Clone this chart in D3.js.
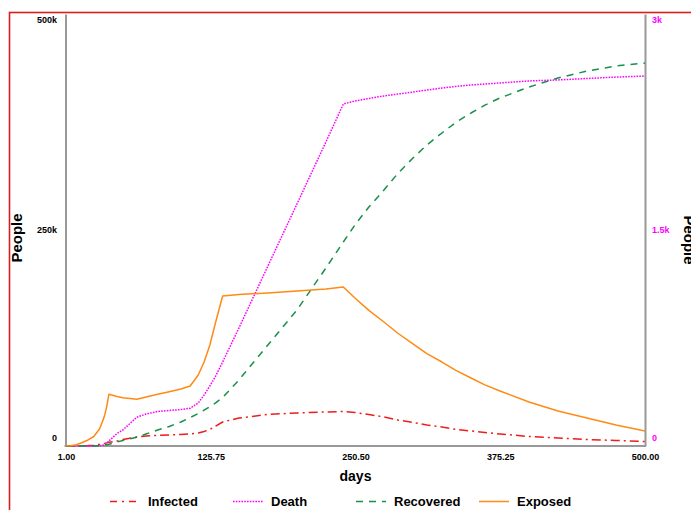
<!DOCTYPE html>
<html>
<head>
<meta charset="utf-8">
<script src="https://cdn.jsdelivr.net/npm/d3@7/dist/d3.min.js"></script>
<style>
  html, body { margin: 0; padding: 0; background: #fff; }
  svg { display: block; font-family: "Liberation Sans", Arial, sans-serif; }
</style>
</head>
<body>
<svg id="chart" width="691" height="510"></svg>
<script>
// Simulation output, sampled by day
const days = [1, 5, 10, 15, 20, 25, 30, 32, 34, 36, 38, 45, 50, 62, 70, 80, 90, 100, 108, 115, 120, 125, 130, 136, 150, 175, 200, 225, 240, 250, 262, 275, 287, 300, 312, 325, 337, 350, 362, 375, 400, 425, 450, 475, 500];

const infected = [0, 0, 0, 200, 500, 1000, 2000, 2500, 3000, 3600, 4300, 5800, 7500, 10600, 11600, 12200, 12700, 13300, 13900, 15000, 16800, 19100, 23100, 27800, 32400, 36500, 38200, 39400, 39900, 38800, 36500, 33600, 30100, 27200, 24300, 22000, 19300, 17400, 15600, 13900, 11000, 9300, 7500, 6400, 5200];

const death = [0, 0, 0, 0, 0, 1, 3, 5, 8, 18, 35, 87, 111, 200, 222, 240, 247, 253, 262, 299, 354, 417, 486, 583, 819, 1250, 1680, 2111, 2375, 2396, 2413, 2431, 2444, 2458, 2472, 2486, 2497, 2507, 2514, 2521, 2535, 2542, 2552, 2562, 2569];

const recovered = [0, 0, 0, 0, 0, 0, 300, 600, 1000, 1500, 2000, 4600, 6400, 10200, 13900, 18500, 22600, 27800, 33000, 37500, 41500, 45500, 50000, 56000, 76400, 116900, 157400, 206000, 236100, 255800, 276600, 296300, 315500, 333300, 348400, 362300, 374500, 385400, 394500, 402800, 415500, 425900, 434000, 439800, 443300];

const exposed = [0, 300, 1500, 4000, 7000, 11000, 20000, 27000, 34000, 45000, 60000, 57300, 55800, 54200, 56700, 59800, 62800, 66000, 69400, 82200, 97200, 116900, 143500, 173600, 175300, 177100, 179400, 181700, 184000, 171300, 157000, 143500, 130500, 118100, 107000, 97200, 87500, 78700, 70800, 63700, 50900, 40500, 32400, 24300, 17400];

const xTicks = [1, 125.75, 250.5, 375.25, 500];
const leftTicks = [0, 250000, 500000];
const leftTickLabels = ["0", "250k", "500k"];
const rightTicks = [0, 1500, 3000];
const rightTickLabels = ["0", "1.5k", "3k"];

const seriesNames = ["Infected", "Death", "Recovered", "Exposed"];

const svg = d3.select("#chart");
const plotLeft = 65.5, plotRight = 645, plotTop = 14, plotBottom = 446;

const x = d3.scaleLinear().domain([1, 500]).range([66, plotRight]);
const yL = d3.scaleLinear().domain([0, 500000]).range([plotBottom, plotTop]);
const yR = d3.scaleLinear().domain([0, 3000]).range([plotBottom, plotTop]);

// frame
svg.append("rect")
  .attr("x", 9.5).attr("y", 12.5)
  .attr("width", 800).attr("height", 600)
  .attr("fill", "none")
  .attr("stroke", "#d81e1e")
  .attr("stroke-width", 1.6);

const axisColor = "#999";
const clampY = v => Math.max(plotTop + 6, Math.min(plotBottom - 8, v));

function styleAxis(g) {
  g.select(".domain").attr("stroke", axisColor).attr("stroke-width", 2);
  g.selectAll(".tick line").remove();
  g.selectAll(".tick text")
    .attr("font-size", 9)
    .attr("font-weight", "bold")
    .attr("font-family", "'Liberation Sans', Arial, sans-serif")
    .attr("dy", null)
    .attr("dominant-baseline", "middle");
}

// left axis
const gL = svg.append("g").attr("transform", `translate(${plotLeft},0)`)
  .call(d3.axisLeft(yL).tickValues(leftTicks).tickSize(0).tickSizeOuter(0).tickPadding(8.5)
    .tickFormat((d, i) => leftTickLabels[i]));
styleAxis(gL);
gL.selectAll(".tick text").attr("fill", "#000").attr("y", d => clampY(yL(d)) - yL(d));

// right axis
const gR = svg.append("g").attr("transform", `translate(${plotRight},0)`)
  .call(d3.axisRight(yR).tickValues(rightTicks).tickSize(0).tickSizeOuter(0).tickPadding(7)
    .tickFormat((d, i) => rightTickLabels[i]));
styleAxis(gR);
gR.selectAll(".tick text").attr("fill", "#ff00ff").attr("y", d => clampY(yR(d)) - yR(d));

// bottom axis
const gB = svg.append("g").attr("transform", `translate(0,${plotBottom})`)
  .call(d3.axisBottom(x).tickValues(xTicks).tickSize(0).tickSizeOuter(0)
    .tickFormat(d3.format(".2f")));
styleAxis(gB);
gB.select(".domain").attr("d", `M${plotLeft - 1},0H${plotRight + 1}`);
gB.selectAll(".tick text").attr("fill", "#000").attr("y", 12);

// axis titles
svg.append("text")
  .attr("x", (66 + plotRight) / 2).attr("y", 481)
  .attr("text-anchor", "middle")
  .attr("font-size", 14).attr("font-weight", "bold")
  .text("days");

svg.append("text")
  .attr("transform", "translate(22,238) rotate(-90)")
  .attr("text-anchor", "middle")
  .attr("font-size", 15).attr("font-weight", "bold")
  .text("People");

svg.append("text")
  .attr("transform", "translate(684,240) rotate(90)")
  .attr("text-anchor", "middle")
  .attr("font-size", 15).attr("font-weight", "bold")
  .text("People");

// series
const series = [
  { name: seriesNames[0], values: infected, y: yL, color: "#ee1c1c", dash: "9,4,2,4" },
  { name: seriesNames[1], values: death, y: yR, color: "#ff00ff", dash: "1.6,1.2" },
  { name: seriesNames[2], values: recovered, y: yL, color: "#17904a", dash: "7,6" },
  { name: seriesNames[3], values: exposed, y: yL, color: "#ff8a14", dash: null }
];

const plot = svg.append("g");
series.forEach(s => {
  const line = d3.line()
    .x((d, i) => x(days[i]))
    .y(d => s.y(d));
  plot.append("path")
    .datum(s.values)
    .attr("d", line)
    .attr("fill", "none")
    .attr("stroke", s.color)
    .attr("stroke-width", 1.5)
    .attr("stroke-dasharray", s.dash)
    .attr("stroke-linejoin", "round");
});

// legend
const legend = svg.append("g");
series.forEach((s, i) => {
  const x0 = 110 + 123 * i;
  const g = legend.append("g").attr("transform", `translate(${x0},501.5)`);
  g.append("line")
    .attr("x1", 0).attr("x2", 30).attr("y1", 0).attr("y2", 0)
    .attr("stroke", s.color)
    .attr("stroke-width", 1.5)
    .attr("stroke-dasharray", i === 0 ? "7,5,2,5" : s.dash);
  g.append("text")
    .attr("x", 38).attr("y", 1.5)
    .attr("dominant-baseline", "middle")
    .attr("font-size", 13).attr("font-weight", "bold")
    .text(s.name);
});
</script>
</body>
</html>
